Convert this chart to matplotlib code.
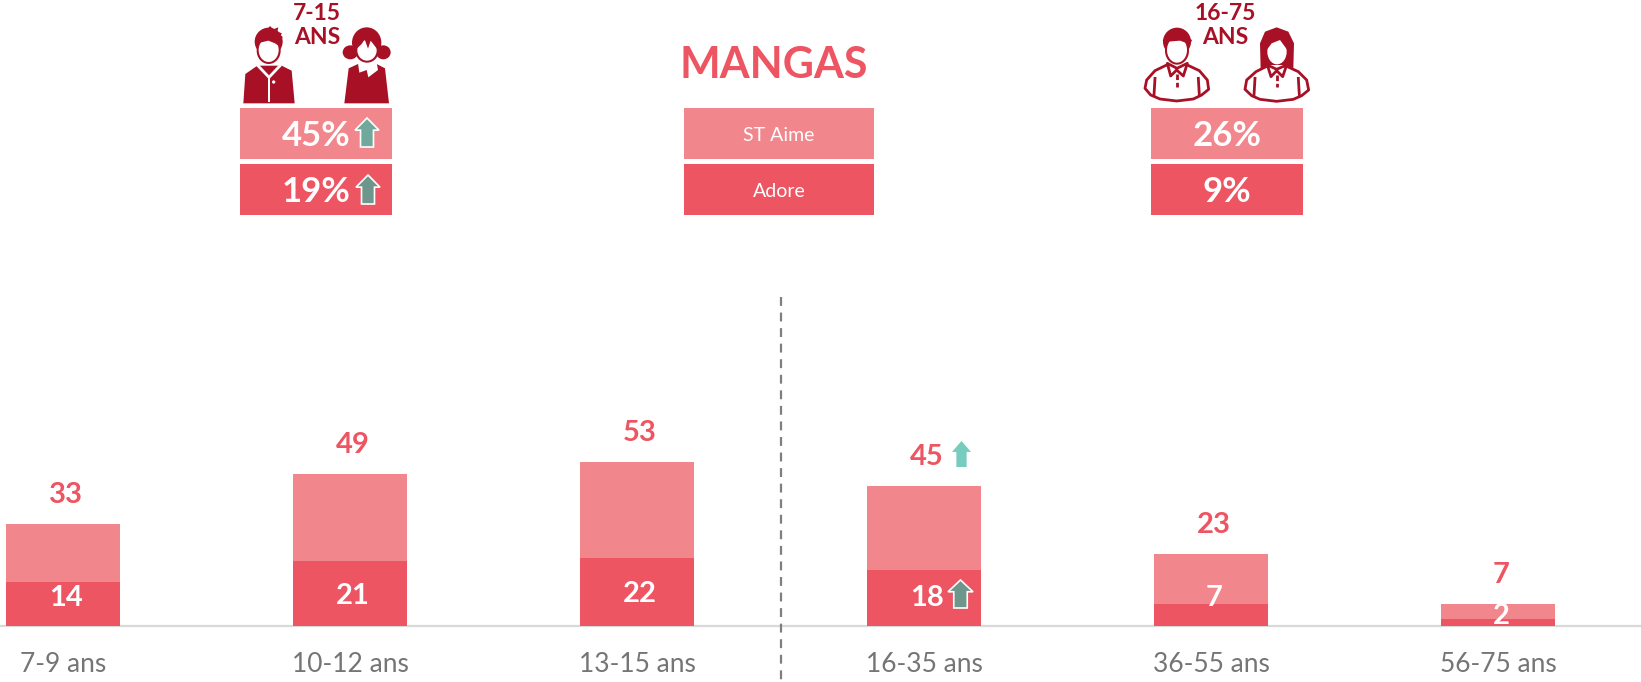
import matplotlib
matplotlib.use("Agg")
import matplotlib.pyplot as plt
from matplotlib.patches import Ellipse, Polygon, Rectangle

plt.rcParams['font.family'] = ['Lato', 'DejaVu Sans']

age_groups = ["7-9 ans", "10-12 ans", "13-15 ans", "16-35 ans", "36-55 ans", "56-75 ans"]
st_aime = [33, 49, 53, 45, 23, 7]
adore = [14, 21, 22, 18, 7, 2]
header_left = ["45%", "19%"]
header_right = ["26%", "9%"]
header_names = ["ST Aime", "Adore"]

light = '#f1878d'
dark = '#ec5561'
icon_red = '#a81125'
tick_grey = '#757575'

W, H = 1641, 682
base_y = 625.5
top_y = 250
px_per_unit = 3.09
bar_step = 287
first_bar = 63

fig = plt.figure(figsize=(W / 100, H / 100), dpi=100)
ax = fig.add_axes([0, (H - base_y) / H, 1, (base_y - top_y) / H])
ax.set_xlim(-first_bar / bar_step, (W - first_bar) / bar_step)
ax.set_ylim(0, (base_y - top_y) / px_per_unit)
for s in ['top', 'left', 'right']:
    ax.spines[s].set_visible(False)
ax.spines['bottom'].set_color('#d9d9d9')
ax.spines['bottom'].set_linewidth(1.6)
ax.patch.set_alpha(0)
ax.set_yticks([])
ax.set_xticks(range(len(age_groups)))
ax.set_xticklabels(age_groups, fontsize=19, color=tick_grey)
ax.tick_params(axis='x', length=0, pad=19)

x = list(range(len(age_groups)))
ax.bar(x, st_aime, width=114.5 / bar_step, color=light, zorder=2)
ax.bar(x, adore, width=114.5 / bar_step, color=dark, zorder=3)

# height of the dark labels above the axis, in px
dark_label_lift = [27, 30, 32, 27, 27, 10]
for i in x:
    ax.annotate(str(st_aime[i]), (i, st_aime[i]), xytext=(2.2, 29 * 0.72),
                textcoords='offset points', ha='center', va='center',
                color=dark, fontsize=21, fontweight='bold', zorder=5)
    ax.annotate(str(adore[i]), (i, 0), xytext=(2.2, dark_label_lift[i] * 0.72),
                textcoords='offset points', ha='center', va='center',
                color='white', fontsize=21, fontweight='bold', zorder=5)

# pixel overlay for the header and decorations
ov = fig.add_axes([0, 0, 1, 1], facecolor='none')
ov.set_xlim(0, W)
ov.set_ylim(H, 0)
ov.axis('off')

ov.plot([780.5, 780.5], [297, 680], color='#7f7f7f', lw=1.6, dashes=(4, 3))


def arrow(x0, x1, y0, y1, fill, edge=None):
    cx = (x0 + x1) / 2
    sw = (x1 - x0) * 0.27
    neck = y0 + (y1 - y0) * 0.42
    pts = [(cx, y0), (x1, neck), (cx + sw, neck), (cx + sw, y1), (cx - sw, y1), (cx - sw, neck), (x0, neck)]
    ov.add_patch(Polygon(pts, closed=True, facecolor=fill, edgecolor=edge or 'none',
                         lw=1.2 if edge else 0, zorder=6))


def boxes(x0, x1, labels, size, bold, dx=0, dy=2):
    for (y0, y1), c, t in zip([(108, 159), (164, 215)], [light, dark], labels):
        ov.add_patch(Rectangle((x0, y0), x1 - x0, y1 - y0, facecolor=c, edgecolor='none'))
        ov.text((x0 + x1) / 2 + dx, (y0 + y1) / 2 + dy, t, ha='center', va='center', color='white',
                fontsize=size, fontweight='bold' if bold else 'normal')


boxes(240, 392, header_left, 25, True)
boxes(684, 874, header_names, 14, False)
boxes(1151, 1303, header_right, 25, True)

ov.text(774, 65, "MANGAS", ha='center', va='center', color=dark, fontsize=31, fontweight='bold')
ov.text(317, 13, "7-15", ha='center', va='center', color=icon_red, fontsize=16.5, fontweight='bold')
ov.text(317, 37, "ANS", ha='center', va='center', color=icon_red, fontsize=16.5, fontweight='bold')
ov.text(1225, 13, "16-75", ha='center', va='center', color=icon_red, fontsize=16.5, fontweight='bold')
ov.text(1225, 37, "ANS", ha='center', va='center', color=icon_red, fontsize=16.5, fontweight='bold')

arrow(355, 379, 118, 147, '#70a89c', 'white')
arrow(356, 380, 175, 204, '#6f968c', 'white')
arrow(952, 971, 441, 467, '#76ccbf')
arrow(948, 973, 580, 608, '#6f968c', 'white')


# icons are traced in zoom coordinates (3x), with an origin in px
def shape(ox, oy, pts, **kw):
    ov.add_patch(Polygon([(ox + a / 3, oy + b / 3) for a, b in pts], closed=True, **kw))


def oval(ox, oy, cx, cy, rx, ry, **kw):
    ov.add_patch(Ellipse((ox + cx / 3, oy + cy / 3), 2 * rx / 3, 2 * ry / 3, **kw))


red = dict(facecolor=icon_red, edgecolor='none')
wht = dict(facecolor='white', edgecolor='none')
line = dict(facecolor='white', edgecolor=icon_red, lw=2, joinstyle='round')

# boy
shape(220, 0, [(70, 310), (76, 222), (112, 197), (185, 197), (215, 212), (224, 310)], **red)
shape(220, 0, [(108, 197), (147, 238), (186, 197), (178, 193), (147, 226), (116, 193)], **wht)
shape(220, 0, [(144, 232), (151, 232), (151, 305), (144, 305)], **wht)
oval(220, 0, 161, 246, 5, 5, **wht)
oval(220, 0, 146, 125, 42, 42, **red)
shape(220, 0, [(140, 90), (150, 78), (160, 88), (175, 82), (172, 95), (186, 100), (175, 115)], **red)
oval(220, 0, 146, 152, 36, 40, **red)
oval(220, 0, 146, 150, 30, 36, **wht)
shape(220, 0, [(112, 140), (120, 128), (145, 122), (165, 130), (180, 140), (188, 110), (146, 95), (108, 112)], **red)

# girl
shape(220, 0, [(373, 310), (386, 205), (414, 192), (470, 192), (495, 205), (507, 310)], **red)
shape(220, 0, [(414, 190), (418, 218), (440, 210), (445, 232), (474, 210), (470, 188)], **wht)
oval(220, 0, 391, 157, 23, 21, **red)
oval(220, 0, 490, 157, 22, 21, **red)
oval(220, 0, 440, 128, 44, 46, **red)
oval(220, 0, 441, 153, 35, 35, **red)
oval(220, 0, 441, 151, 29, 31, **wht)
shape(220, 0, [(408, 148), (425, 132), (434, 118), (444, 146), (452, 122), (472, 148), (476, 105), (405, 105)], **red)

# man
man_body = [(45, 265), (50, 240), (75, 212), (110, 195), (140, 210), (172, 195), (208, 212), (232, 240),
            (236, 268), (215, 285), (190, 297), (140, 303), (90, 297), (62, 285)]
shape(1130, 0, man_body, **line)
oval(1130, 0, 141, 125, 42, 42, **red)
oval(1130, 0, 141, 152, 36, 42, **red)
oval(1130, 0, 141, 150, 30, 38, **wht)
shape(1130, 0, [(108, 145), (112, 125), (150, 122), (172, 130), (175, 148), (186, 120), (141, 95), (98, 120)], **red)
shape(1130, 0, [(112, 190), (122, 228), (140, 210), (160, 228), (172, 190), (141, 205)], **line)
ov.plot([1130 + 140 / 3] * 2, [74, 87], color=icon_red, lw=2, dashes=(2, 1))
ov.plot([1130 + 75 / 3, 1130 + 72 / 3], [235 / 3, 285 / 3], color=icon_red, lw=2)
ov.plot([1130 + 205 / 3, 1130 + 208 / 3], [235 / 3, 285 / 3], color=icon_red, lw=2)

# woman
shape(1130, 0, [(345, 268), (350, 240), (378, 215), (412, 198), (440, 215), (468, 198), (505, 215), (530, 240),
                (536, 270), (515, 287), (490, 298), (440, 304), (390, 298), (365, 287)], **line)
shape(1130, 0, [(392, 210), (390, 130), (405, 95), (440, 82), (475, 95), (492, 130), (490, 205), (460, 195),
                (420, 195)], **red)
oval(1130, 0, 441, 155, 29, 38, **wht)
shape(1130, 0, [(410, 150), (425, 130), (450, 120), (472, 150), (480, 110), (400, 110)], **red)
shape(1130, 0, [(412, 195), (423, 230), (440, 212), (458, 230), (470, 195), (440, 208)], **line)
ov.plot([1130 + 440 / 3] * 2, [75, 87], color=icon_red, lw=2, dashes=(2, 1))
ov.plot([1130 + 375 / 3, 1130 + 372 / 3], [235 / 3, 285 / 3], color=icon_red, lw=2)
ov.plot([1130 + 505 / 3, 1130 + 508 / 3], [235 / 3, 285 / 3], color=icon_red, lw=2)

fig.savefig("out.png", dpi=100)
